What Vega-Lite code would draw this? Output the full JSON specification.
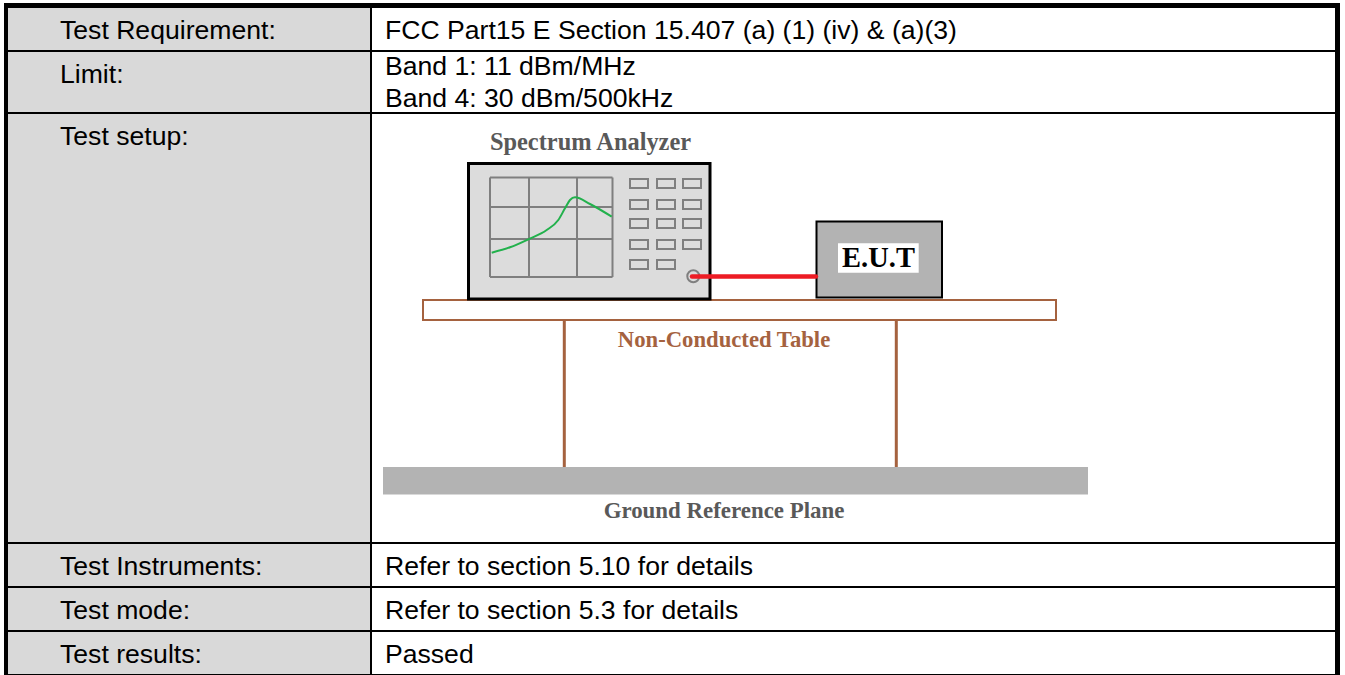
{
"$schema":"https://vega.github.io/schema/vega-lite/v6.json",
"width":1345,"height":675,"padding":0,"autosize":{"type":"fit","contains":"padding"},
"background":"#ffffff",
"config":{"view":{"stroke":null}},
"datasets":{
"cell":[{"x":8,"x2":370,"y":8,"y2":674}],
"lines":[
{"x":4,"x2":1340,"y":3,"y2":8},{"x":4,"x2":8,"y":3,"y2":675},{"x":1335,"x2":1340,"y":3,"y2":675},{"x":4,"x2":1340,"y":674,"y2":675},
{"x":370,"x2":372,"y":8,"y2":675},
{"x":8,"x2":1335,"y":50,"y2":52},{"x":8,"x2":1335,"y":112,"y2":114},{"x":8,"x2":1335,"y":542,"y2":544},{"x":8,"x2":1335,"y":586,"y2":588},{"x":8,"x2":1335,"y":630,"y2":632}
],
"tableText":[
{"x":60,"y":30.5,"text":"Test Requirement:"},{"x":60,"y":75.3,"text":"Limit:"},{"x":60,"y":137,"text":"Test setup:"},{"x":60,"y":567,"text":"Test Instruments:"},{"x":60,"y":611,"text":"Test mode:"},{"x":60,"y":655,"text":"Test results:"},
{"x":385,"y":30.5,"text":"FCC Part15 E Section 15.407 (a) (1) (iv) & (a)(3)"},{"x":385,"y":67,"text":"Band 1: 11 dBm/MHz"},{"x":385,"y":98.7,"text":"Band 4: 30 dBm/500kHz"},{"x":385,"y":567,"text":"Refer to section 5.10 for details"},{"x":385,"y":611,"text":"Refer to section 5.3 for details"},{"x":385,"y":655,"text":"Passed"}
],
"ground":[{"x":383,"x2":1088,"y":467,"y2":494.5}],
"tableTop":[{"x":423,"x2":1056,"y":300,"y2":320}],
"legs":[{"x":562.8,"x2":565.8,"y":320,"y2":467},{"x":894.8,"x2":897.8,"y":320,"y2":467}],
"analyzer":[{"x":468.5,"x2":710,"y":163.5,"y2":299}],
"grid":[
{"x":490,"x2":612.5,"y":177.5,"y2":177.5},{"x":490,"x2":612.5,"y":207,"y2":207},{"x":490,"x2":612.5,"y":239,"y2":239},{"x":490,"x2":612.5,"y":277,"y2":277},
{"x":490,"x2":490,"y":177.5,"y2":277},{"x":529,"x2":529,"y":177.5,"y2":277},{"x":577,"x2":577,"y":177.5,"y2":277},{"x":612.5,"x2":612.5,"y":177.5,"y2":277}
],
"buttons":[
{"x":630,"x2":648,"y":179,"y2":188},{"x":657,"x2":675,"y":179,"y2":188},{"x":683,"x2":701,"y":179,"y2":188},
{"x":630,"x2":648,"y":200,"y2":209},{"x":657,"x2":675,"y":200,"y2":209},{"x":683,"x2":701,"y":200,"y2":209},
{"x":630,"x2":648,"y":219,"y2":228},{"x":657,"x2":675,"y":219,"y2":228},{"x":683,"x2":701,"y":219,"y2":228},
{"x":630,"x2":648,"y":240,"y2":249},{"x":657,"x2":675,"y":240,"y2":249},{"x":683,"x2":701,"y":240,"y2":249},
{"x":630,"x2":648,"y":260,"y2":269},{"x":657,"x2":675,"y":260,"y2":269}
],
"trace":[{"x":491.7,"y":252.7},{"x":510,"y":247.3},{"x":528.3,"y":239.3},{"x":546.7,"y":230},{"x":558.3,"y":220},{"x":565,"y":208.3},{"x":570,"y":200},{"x":575,"y":197.3},{"x":590,"y":204},{"x":611.7,"y":216.7}],
"port":[{"x":693.3,"y":276.3}],
"cable":[{"x":692,"x2":816,"y":276.5,"y2":276.5}],
"eut":[{"x":816.5,"x2":942,"y":221.5,"y2":297.5}],
"eutLabel":[{"x":838,"x2":918.7,"y":243.3,"y2":272.7}],
"eutText":[{"x":878.5,"y":258,"text":"E.U.T"}],
"darkLabels":[{"x":590.5,"y":143,"text":"Spectrum Analyzer"}],
"groundLabel":[{"x":724,"y":511,"text":"Ground Reference Plane"}],
"brownLabel":[{"x":724,"y":340,"text":"Non-Conducted Table"}]
},
"encoding":{
"x":{"field":"x","type":"quantitative","axis":null,"scale":{"domain":[0,1345],"nice":false,"zero":false}},
"y":{"field":"y","type":"quantitative","axis":null,"scale":{"domain":[675,0],"nice":false,"zero":false}}
},
"layer":[
{"data":{"name":"cell"},"mark":{"type":"rect","fill":"#d9d9d9"},"encoding":{"x2":{"field":"x2"},"y2":{"field":"y2"}}},
{"data":{"name":"lines"},"mark":{"type":"rect","fill":"#000000"},"encoding":{"x2":{"field":"x2"},"y2":{"field":"y2"}}},
{"data":{"name":"tableText"},"mark":{"type":"text","align":"left","baseline":"middle","font":"Liberation Sans","fontSize":26.6,"fill":"#000000"},"encoding":{"text":{"field":"text"}}},
{"data":{"name":"ground"},"mark":{"type":"rect","fill":"#b3b3b3"},"encoding":{"x2":{"field":"x2"},"y2":{"field":"y2"}}},
{"data":{"name":"tableTop"},"mark":{"type":"rect","fill":"#ffffff","stroke":"#a5623f","strokeWidth":2},"encoding":{"x2":{"field":"x2"},"y2":{"field":"y2"}}},
{"data":{"name":"legs"},"mark":{"type":"rect","fill":"#a5623f"},"encoding":{"x2":{"field":"x2"},"y2":{"field":"y2"}}},
{"data":{"name":"analyzer"},"mark":{"type":"rect","fill":"#dcdcdc","stroke":"#000000","strokeWidth":3},"encoding":{"x2":{"field":"x2"},"y2":{"field":"y2"}}},
{"data":{"name":"grid"},"mark":{"type":"rule","stroke":"#7f7f7f","strokeWidth":2},"encoding":{"x2":{"field":"x2"},"y2":{"field":"y2"}}},
{"data":{"name":"buttons"},"mark":{"type":"rect","fill":null,"fillOpacity":0,"stroke":"#7f7f7f","strokeWidth":2},"encoding":{"x2":{"field":"x2"},"y2":{"field":"y2"}}},
{"data":{"name":"trace"},"mark":{"type":"line","stroke":"#22b14c","strokeWidth":2,"interpolate":"monotone"},"encoding":{}},
{"data":{"name":"port"},"mark":{"type":"point","shape":"circle","size":144,"filled":false,"stroke":"#7f7f7f","strokeWidth":2,"opacity":1},"encoding":{}},
{"data":{"name":"eut"},"mark":{"type":"rect","fill":"#b3b3b3","stroke":"#000000","strokeWidth":2},"encoding":{"x2":{"field":"x2"},"y2":{"field":"y2"}}},
{"data":{"name":"cable"},"mark":{"type":"rule","stroke":"#ed1c24","strokeWidth":4.5,"strokeCap":"round"},"encoding":{"x2":{"field":"x2"},"y2":{"field":"y2"}}},
{"data":{"name":"eutLabel"},"mark":{"type":"rect","fill":"#ffffff"},"encoding":{"x2":{"field":"x2"},"y2":{"field":"y2"}}},
{"data":{"name":"eutText"},"mark":{"type":"text","align":"center","baseline":"middle","font":"Liberation Serif","fontWeight":"bold","fontSize":28.5,"fill":"#000000"},"encoding":{"text":{"field":"text"}}},
{"data":{"name":"darkLabels"},"mark":{"type":"text","align":"center","baseline":"middle","font":"Liberation Serif","fontWeight":"bold","fontSize":24.4,"fill":"#595959"},"encoding":{"text":{"field":"text"}}},
{"data":{"name":"groundLabel"},"mark":{"type":"text","align":"center","baseline":"middle","font":"Liberation Serif","fontWeight":"bold","fontSize":22.9,"fill":"#595959"},"encoding":{"text":{"field":"text"}}},
{"data":{"name":"brownLabel"},"mark":{"type":"text","align":"center","baseline":"middle","font":"Liberation Serif","fontWeight":"bold","fontSize":22.7,"fill":"#a5623f"},"encoding":{"text":{"field":"text"}}}
]
}
